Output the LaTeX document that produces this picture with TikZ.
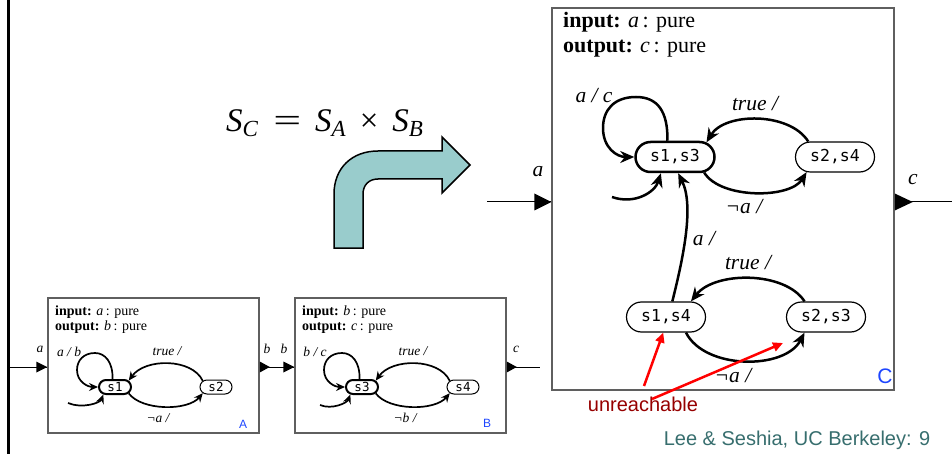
\documentclass[tikz,border=0pt]{standalone}
\usepackage{fontspec}
\setmainfont{Liberation Serif}
\newfontfamily\statefont{DejaVu Sans Mono}
\newfontfamily\arialfont{Liberation Sans}
\usetikzlibrary{arrows.meta,shapes.misc}
\definecolor{boxgray}{RGB}{95,95,95}
\definecolor{tealfill}{RGB}{153,204,204}
\definecolor{tagblue}{RGB}{30,70,255}
\definecolor{darkred}{RGB}{150,0,0}
\definecolor{footteal}{RGB}{55,110,110}
\tikzset{
  bigstate/.style={draw, rounded rectangle, line width=1.2pt, minimum width=79pt, minimum height=30pt, inner sep=0pt, font=\statefont\fontsize{16.5}{16.5}\selectfont},
  biginit/.style={bigstate, line width=2.5pt},
  smallstate/.style={draw, rounded rectangle, line width=1pt, minimum width=32pt, minimum height=14pt, inner sep=0pt, font=\statefont\fontsize{12.5}{12.5}\selectfont},
  smallinit/.style={smallstate, line width=2pt},
  bigedge/.style={line width=2.5pt, -{Stealth[length=14pt,width=12pt,inset=4.5pt]}},
  smalledge/.style={line width=1.7pt, -{Stealth[length=9pt,width=8pt,inset=3pt]}},
  machine/.style={draw=boxgray, line width=1.5pt, inner sep=0pt},
  biglabel/.style={font=\fontsize{21.5}{21.5}\selectfont\itshape, inner sep=0pt},
  smalllabel/.style={font=\fontsize{13.5}{13.5}\selectfont\itshape, inner sep=0pt},
  bighead/.style={font=\fontsize{22}{22}\selectfont, inner sep=0pt, anchor=base west},
  smallhead/.style={font=\fontsize{14}{14}\selectfont, inner sep=0pt, anchor=base west},
  portline/.style={line width=1pt},
  tagtext/.style={text=tagblue, inner sep=0pt},
  redarrow/.style={red, line width=2.5pt, -{Triangle[length=10pt,width=9pt]}}
}
\begin{document}
\begin{tikzpicture}[x=1pt,y=-1pt]
\useasboundingbox (0,0) rectangle (952,454);
% left bar
\coordinate (barTop) at (8,0);
\coordinate (barBot) at (8,454);
\draw[line width=3pt] (barTop) -- (barBot);

% ===== Machine A =====
\node[machine, minimum width=211pt, minimum height=135pt] (A) at (153.5,365.5) {};
\node[smallhead] (Ahin) at (55,315) {\textbf{input:} \textit{a}\,: pure};
\node[smallhead] (Ahout) at (55,330) {\textbf{output:} \textit{b}\,: pure};
\node[smallinit] (sA1) at (115,387) {s1};
\node[smallstate] (sA2) at (216,387) {s2};
\coordinate (Ainit) at (68,403);
\draw[smalledge] (sA1.107) .. controls (113,362) and (105,353) .. (95,353) .. controls (84,353) and (77,360) .. (77,370) .. controls (77,382) and (88,387) .. (sA1.west);
\draw[smalledge] (Ainit) .. controls (82,409) and (100,403) .. (sA1.213);
\draw[smalledge] (sA2.155) .. controls (192,358) and (145,358) .. (sA1.25);
\draw[smalledge] (sA1.-25) .. controls (142,411) and (188,411) .. (sA2.205);
\node[smalllabel] (lAab) at (69,352) {a / b};
\node[smalllabel] (lAtrue) at (167,351) {true /};
\node[smalllabel] (lAna) at (158,418) {¬a /};
\node[tagtext, font=\arialfont\fontsize{12}{12}\selectfont] (tagA) at (243,424) {A};

% ===== Machine B =====
\node[machine, minimum width=211pt, minimum height=135pt] (B) at (400.5,365.5) {};
\node[smallhead] (Bhin) at (302,315) {\textbf{input:} \textit{b}\,: pure};
\node[smallhead] (Bhout) at (302,330) {\textbf{output:} \textit{c}\,: pure};
\node[smallinit] (sB3) at (362,387) {s3};
\node[smallstate] (sB4) at (463,387) {s4};
\coordinate (Binit) at (320,405);
\draw[smalledge] (sB3.107) .. controls (360,362) and (352,353) .. (342,353) .. controls (331,353) and (324,360) .. (324,370) .. controls (324,382) and (335,387) .. (sB3.west);
\draw[smalledge] (Binit) .. controls (332,410) and (347,403) .. (sB3.213);
\draw[smalledge] (sB4.155) .. controls (439,358) and (392,358) .. (sB3.25);
\draw[smalledge] (sB3.-25) .. controls (389,411) and (435,411) .. (sB4.205);
\node[smalllabel] (lBbc) at (315,352) {b / c};
\node[smalllabel] (lBtrue) at (413,351) {true /};
\node[smalllabel] (lBnb) at (405,418) {¬b /};
\node[tagtext, font=\arialfont\fontsize{12}{12}\selectfont] (tagB) at (487,423) {B};

% ports of A and B
\coordinate (AinL) at (8,367);
\coordinate (BoutR) at (540,367);
\draw[portline] (AinL) -- ([yshift=-1.5pt]A.west);
\fill ([yshift=-1.5pt]A.west) -- ++(-11,-5.5) -- ++(0,11) -- cycle;
\draw[portline] ([yshift=-1.5pt]A.east) -- ([yshift=-1.5pt]B.west);
\fill ([yshift=-1.5pt]A.east) ++(0,-5.5) -- ++(10,5.5) -- ++(-10,5.5) -- cycle;
\fill ([yshift=-1.5pt]B.west) -- ++(-11,-5.5) -- ++(0,11) -- cycle;
\draw[portline] ([yshift=-1.5pt]B.east) -- (BoutR);
\fill ([yshift=-1.5pt]B.east) ++(0,-5.5) -- ++(10,5.5) -- ++(-10,5.5) -- cycle;
\node[smalllabel] (pA) at (40,349) {a};
\node[smalllabel] (pb1) at (267,349) {b};
\node[smalllabel] (pb2) at (284,349) {b};
\node[smalllabel] (pc) at (516,349) {c};

% ===== Equation and big arrow =====
\node[anchor=base west, inner sep=0pt, font=\fontsize{33}{33}\selectfont] (eq) at (226,132)
 {\textit{S}\raisebox{-5pt}{\fontsize{23}{23}\selectfont\textit{C}}\hspace{15pt}\scalebox{1.5}[1]{=}\hspace{14pt}\textit{S}\raisebox{-5pt}{\fontsize{23}{23}\selectfont\textit{A}}\hspace{14pt}×\hspace{14pt}\textit{S}\raisebox{-5pt}{\fontsize{23}{23}\selectfont\textit{B}}};
\draw[fill=tealfill, line width=1.5pt, line join=miter] (334,248) -- (334,194) .. controls (334,168) and (352,151) .. (378,151) -- (442,151) -- (442,137) -- (470,165) -- (442,193) -- (442,179) -- (378,179) .. controls (369,179) and (363,185) .. (363,194) -- (363,248) -- cycle;

% ===== Machine C =====
\node[machine, minimum width=342pt, minimum height=382pt] (C) at (723,199) {};
\node[bighead] (Chin) at (563,28) {\textbf{input:} \textit{a}\,: pure};
\node[bighead] (Chout) at (563,53) {\textbf{output:} \textit{c}\,: pure};
\node[biginit] (s13) at (675,157) {s1,s3};
\node[bigstate] (s24) at (835,157) {s2,s4};
\node[bigstate] (s14) at (666,317) {s1,s4};
\node[bigstate] (s23) at (826,317) {s2,s3};
\coordinate (Cinit) at (612,197);
\draw[bigedge] (s13.115) .. controls (668,112) and (658,97) .. (636,97) .. controls (614,97) and (603,110) .. (603,128) .. controls (603,148) and (617,157) .. (s13.west);
\draw[bigedge] (Cinit) .. controls (635,205) and (655,192) .. (s13.229);
\draw[bigedge] (s24.150) .. controls (790,112) and (725,112) .. (s13.25);
\draw[bigedge] (s13.-28) .. controls (720,199) and (790,199) .. (s24.208);
\draw[bigedge] (s14.68) .. controls (684,255) and (694,205) .. (s13.281);
\draw[bigedge] (s23.144) .. controls (785,271) and (715,271) .. (s14.32);
\draw[bigedge] (s14.322) .. controls (705,370) and (785,370) .. (s23.216);
\node[biglabel] (lCac) at (594,96) {a / c};
\node[biglabel] (lCtrue1) at (755,104) {true /};
\node[biglabel] (lCna1) at (744,207) {¬a /};
\node[biglabel] (lCa) at (704,239) {a /};
\node[biglabel] (lCtrue2) at (748,263) {true /};
\node[biglabel] (lCna2) at (733,376) {¬a /};
\node[tagtext, font=\arialfont\fontsize{21}{21}\selectfont] (tagC) at (885,376) {C};

% ports of C
\coordinate (CinL) at (487,202);
\coordinate (CoutR) at (952,202);
\draw[portline] (CinL) -- ([yshift=-3pt]C.west);
\fill ([yshift=-3pt]C.west) -- ++(-17,-8.5) -- ++(0,17) -- cycle;
\draw[portline] ([yshift=-3pt]C.east) -- (CoutR);
\fill ([yshift=-3pt]C.east) ++(0,-8.5) -- ++(18,8.5) -- ++(-18,8.5) -- cycle;
\node[biglabel] (pCa) at (538,172) {a};
\node[biglabel] (pCc) at (913,180) {c};

% ===== unreachable annotation =====
\node[text=darkred, font=\arialfont\fontsize{20}{20}\selectfont, inner sep=0pt] (unr) at (643,404) {unreachable};
\coordinate (r1s) at (644,386);
\coordinate (r2s) at (652,399);
\draw[redarrow] (r1s) -- (s14.-100);
\draw[redarrow] (r2s) -- (783,343);

% footer
\node[text=footteal, font=\arialfont\fontsize{20}{20}\selectfont, inner sep=0pt] (foot) at (797,440) {Lee \& Seshia, UC Berkeley: 9};
\end{tikzpicture}
\end{document}
